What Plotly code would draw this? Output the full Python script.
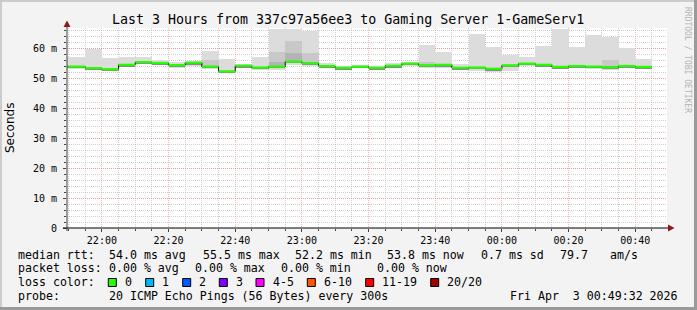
import plotly.graph_objects as go
from datetime import datetime, timedelta

# ---------------- data (ms), 5-minute steps starting 21:45 ----------------
first_step = "2026-04-02 21:45:00"
step_minutes = 5
median = [53.8, 53.8, 53.3, 52.9, 54.4, 55.3, 55.0, 54.3, 55.1, 53.8, 52.2, 54.1, 53.5,
          53.8, 55.5, 54.9, 54.0, 53.4, 53.8, 53.4, 54.1, 54.8, 54.2, 54.4, 53.4, 53.5,
          53.1, 54.2, 54.8, 54.4, 53.7, 54.0, 53.8, 53.6, 54.0, 53.7]
smoke_max = [57.1, 57.1, 59.8, 56.6, 57.0, 57.0, 56.0, 55.2, 55.8, 59.0, 56.2, 54.8, 57.1,
             66.3, 66.3, 65.8, 54.9, 53.9, 54.2, 53.9, 54.9, 55.4, 61.0, 58.6, 54.6, 64.7,
             60.3, 57.8, 56.9, 60.6, 66.3, 60.2, 64.3, 63.8, 59.9, 56.2]
smoke_min = [52.9, 52.9, 52.6, 52.4, 53.6, 54.7, 54.4, 53.2, 54.0, 52.9, 51.6, 53.5, 52.8,
             52.7, 54.3, 54.1, 53.2, 52.8, 53.2, 52.8, 53.5, 54.1, 53.3, 53.4, 52.7, 52.4,
             52.1, 52.4, 53.9, 53.7, 53.0, 53.2, 53.0, 52.8, 53.2, 53.0]
inner_max = [53.8, 53.8, 53.3, 52.9, 54.4, 55.3, 55.0, 54.3, 55.1, 56.0, 52.2, 54.1, 53.5,
             58.8, 62.3, 58.2, 54.0, 53.4, 53.8, 53.4, 54.1, 54.8, 55.5, 54.4, 53.4, 53.5,
             53.1, 54.2, 54.8, 54.4, 53.7, 54.0, 53.8, 56.0, 54.0, 53.7]
core_max = [53.8, 53.8, 53.3, 52.9, 54.4, 55.3, 55.0, 54.3, 55.1, 53.8, 52.2, 54.1, 53.5,
            55.5, 58.2, 54.9, 54.0, 53.4, 53.8, 53.4, 54.1, 54.8, 54.2, 54.4, 53.4, 53.5,
            53.1, 54.2, 54.8, 54.4, 53.7, 54.0, 53.8, 53.6, 54.0, 53.7]

x_start = "2026-04-02 21:49:32"
x_end = "2026-04-03 00:49:32"
y_ticks = [0, 10, 20, 30, 40, 50, 60]
y_tick_text = ["0", "10 m", "20 m", "30 m", "40 m", "50 m", "60 m"]

title = "Last 3 Hours from 337c97a56ee3 to Gaming Server 1-GameServ1"
row1 = [("median rtt:", 16), ("54.0 ms avg", 107.3), ("55.5 ms max", 200.7), ("52.2 ms min", 293.3),
        ("53.8 ms now", 385), ("0.7 ms sd", 479.3), ("79.7", 558.3), ("am/s", 607.7)]
row2 = [("packet loss:", 16), ("0.00 % avg", 107.3), ("0.00 % max", 193.3), ("0.00 % min", 279.3),
        ("0.00 % now", 375)]
loss_labels = ["0", "1", "2", "3", "4-5", "6-10", "11-19", "20/20"]
loss_colors = ["#26ff00", "#00b8ff", "#0059ff", "#7e00ff", "#ff00ff", "#ff5500", "#ff0000", "#a10000"]
loss_box_x = [108.3, 145.7, 182.7, 219.3, 256, 307.3, 365.7, 430.7]
probe_text = "20 ICMP Echo Pings (56 Bytes) every 300s"
date_text = "Fri Apr  3 00:49:32 2026"

# ---------------- geometry ----------------
W, H = 697, 310
PL, PR, PT, PB = 67, 667, 28, 228
MONO = "DejaVu Sans Mono"


def px(x):
    return (x - PL) / (PR - PL)


def py(y):
    return (PB - y) / (PB - PT)


t0 = datetime.strptime(first_step, "%Y-%m-%d %H:%M:%S")
step = timedelta(minutes=step_minutes)
n = len(median)
starts = [t0 + i * step for i in range(n)]
mids = [s + step / 2 for s in starts]
width_ms = step_minutes * 60 * 1000

fig = go.Figure()


def band(lo, hi, color):
    fig.add_trace(go.Bar(x=mids, y=[h - l for l, h in zip(lo, hi)], base=lo, width=width_ms,
                         marker=dict(color=color, line=dict(width=0)), hoverinfo="skip",
                         showlegend=False))


band(smoke_min, smoke_max, "#dcdcdc")
band(median, inner_max, "#c8c8c8")
band(median, core_max, "#b4b4b4")
band([m - 0.45 for m in median], median, "#8a8a8a")

# black step line
fig.add_trace(go.Scatter(x=starts + [starts[-1] + step], y=median + [median[-1]], mode="lines",
                         line=dict(shape="hv", color="#000000", width=1), hoverinfo="skip",
                         showlegend=False))
# green median segments
gx, gy = [], []
for s, m in zip(starts, median):
    gx += [s, s + step, None]
    gy += [m, m, None]
fig.add_trace(go.Scatter(x=gx, y=gy, mode="lines", line=dict(color="#26ff00", width=2.2),
                         hoverinfo="skip", showlegend=False, connectgaps=False))

major_grid = "rgba(240,120,120,0.55)"
minor_grid = "rgba(150,150,150,0.45)"

fig.update_layout(
    width=W, height=H,
    margin=dict(l=PL, r=W - PR, t=PT, b=H - PB),
    paper_bgcolor="#f3f3f3", plot_bgcolor="#ffffff",
    barmode="overlay", bargap=0,
    showlegend=False,
    font=dict(family=MONO, size=10, color="#000000"),
    xaxis=dict(range=[x_start, x_end], type="date", tickformat="%H:%M",
               tick0="2026-04-02 22:00:00", dtick=20 * 60 * 1000,
               showgrid=True, gridcolor=major_grid, griddash="1px,1px", gridwidth=1,
               ticks="outside", ticklen=3, tickcolor="#444444",
               showline=False, zeroline=False,
               tickfont=dict(family=MONO, size=10),
               minor=dict(dtick=5 * 60 * 1000, tick0="2026-04-02 22:00:00", showgrid=True,
                          gridcolor=minor_grid, griddash="1px,1px", ticks="outside",
                          ticklen=2, tickcolor="#444444"),
               fixedrange=True),
    yaxis=dict(range=[0, (PB - PT) / 3.0], tickmode="array", tickvals=y_ticks, ticktext=y_tick_text,
               showgrid=True, gridcolor=major_grid, griddash="1px,1px", gridwidth=1,
               ticks="outside", ticklen=3, tickcolor="#444444",
               showline=False, zeroline=False,
               tickfont=dict(family=MONO, size=10), ticklabelstandoff=4,
               minor=dict(dtick=2, tick0=0, showgrid=True, gridcolor=minor_grid,
                          griddash="1px,1px", ticks="outside", ticklen=2, tickcolor="#444444"),
               fixedrange=True),
)

shapes = []
# axes lines + arrows
shapes.append(dict(type="line", xref="paper", yref="paper", x0=px(67), x1=px(67), y0=py(231), y1=py(24),
                   line=dict(color="#404040", width=1)))
shapes.append(dict(type="line", xref="paper", yref="paper", x0=px(63), x1=px(670), y0=py(228), y1=py(228),
                   line=dict(color="#000000", width=1.2)))
shapes.append(dict(type="path", xref="paper", yref="paper",
                   path=f"M {px(63.5)} {py(27)} L {px(70.5)} {py(27)} L {px(67)} {py(20.5)} Z",
                   fillcolor="#8b1a1a", line=dict(width=0)))
shapes.append(dict(type="path", xref="paper", yref="paper",
                   path=f"M {px(668)} {py(224.5)} L {px(668)} {py(231.5)} L {px(674.5)} {py(228)} Z",
                   fillcolor="#8b1a1a", line=dict(width=0)))
# image frame
shapes.append(dict(type="rect", xref="paper", yref="paper", x0=px(0), x1=px(W), y0=py(0), y1=py(2),
                   fillcolor="#cccccc", line=dict(width=0), layer="below"))
shapes.append(dict(type="rect", xref="paper", yref="paper", x0=px(0), x1=px(2), y0=py(0), y1=py(H),
                   fillcolor="#cccccc", line=dict(width=0), layer="below"))
shapes.append(dict(type="rect", xref="paper", yref="paper", x0=px(W - 3), x1=px(W), y0=py(0), y1=py(H),
                   fillcolor="#9a9a9a", line=dict(width=0), layer="below"))
shapes.append(dict(type="rect", xref="paper", yref="paper", x0=px(0), x1=px(W), y0=py(H - 3), y1=py(H),
                   fillcolor="#9a9a9a", line=dict(width=0), layer="below"))
# loss colour boxes
for bx, c in zip(loss_box_x, loss_colors):
    shapes.append(dict(type="rect", xref="paper", yref="paper", x0=px(bx), x1=px(bx + 8),
                       y0=py(286.5), y1=py(278.5), fillcolor=c, line=dict(color="#000000", width=1)))
fig.update_layout(shapes=shapes)

ann = []


def text(s, x, y, size=11.6, anchor="left", color="#000000", family=MONO, angle=0, yanchor="middle"):
    ann.append(dict(text=s, x=px(x), y=py(y), xref="paper", yref="paper", showarrow=False,
                    xanchor=anchor, yanchor=yanchor, textangle=angle,
                    font=dict(family=family, size=size, color=color)))


text(title, 348, 19, size=13.3, anchor="center")
text("Seconds", 10, 128, size=12, anchor="center", family="DejaVu Sans", angle=-90)
text("RRDTOOL / TOBI OETIKER", 688, 5, size=8, anchor="center", color="#b4b4b4", angle=90, yanchor="top")
for s, x in row1:
    text(s.replace(" ", "\u00a0"), x, 254.7)
for s, x in row2:
    text(s.replace(" ", "\u00a0"), x, 268)
text("loss\u00a0color:", 16, 282.3)
for bx, lab in zip(loss_box_x, loss_labels):
    text(lab, bx + 14.5, 282.3)
text("probe:", 16, 296)
text(probe_text.replace(" ", "\u00a0"), 107.3, 296)
text(date_text.replace(" ", "\u00a0"), 680, 296, anchor="right")
fig.update_layout(annotations=ann)

fig.write_html("out.html")
